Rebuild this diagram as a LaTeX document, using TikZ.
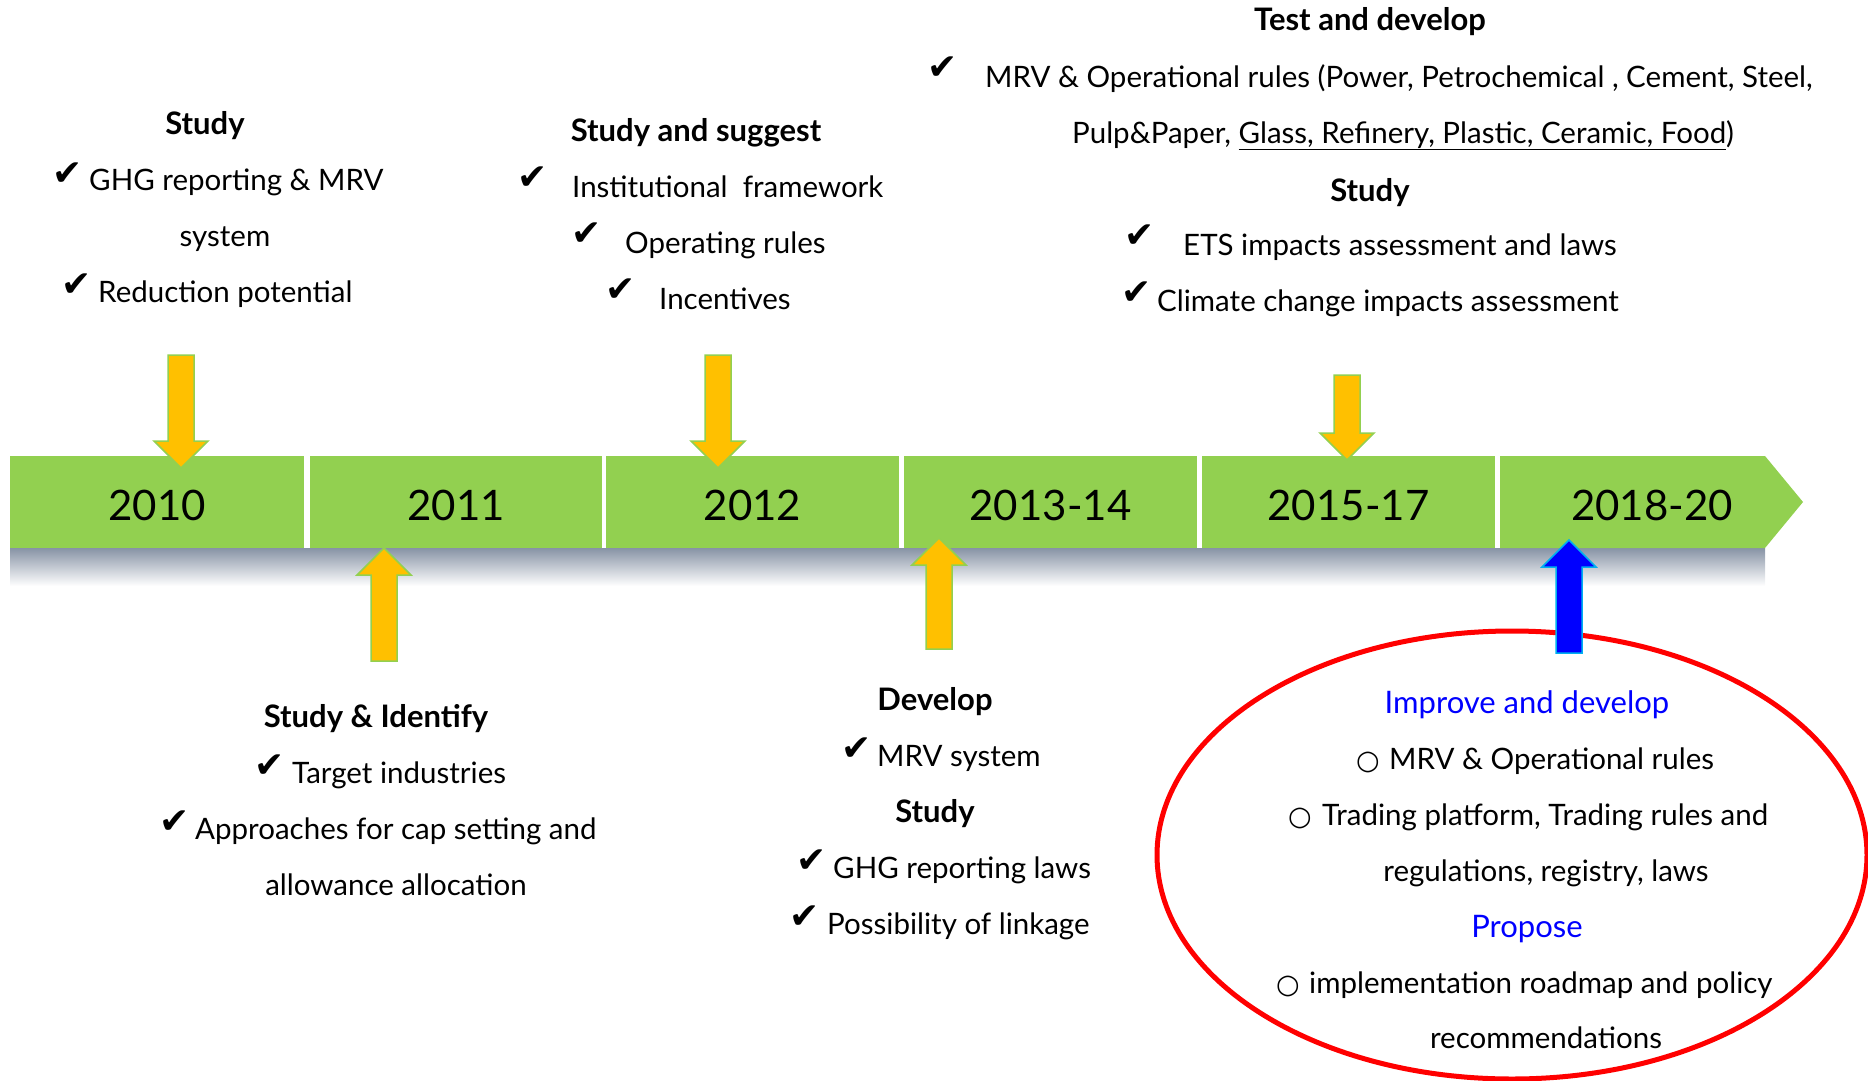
\documentclass[tikz,border=0pt]{standalone}
\usepackage{fontspec}
\setmainfont{Lato}
\newfontfamily\yearfont{Lato}
\newfontfamily\symfont{DejaVu Sans}
\usetikzlibrary{shadows}
\definecolor{bargreen}{RGB}{146,208,80}
\definecolor{arroworange}{RGB}{255,192,0}
\definecolor{shadowgray}{RGB}{135,147,165}
\definecolor{arrowblue}{RGB}{0,0,255}
\definecolor{arrowcyan}{RGB}{0,176,240}
\definecolor{ringred}{RGB}{255,0,0}
\newcommand{\chk}{{\symfont\char"2714}}
\newcommand{\opnbul}{{\symfont\bfseries\char"25CB}}
\tikzset{
  pics/downarr/.style={code={
    \path[pic actions] (-13,0) -- (13,0) -- (13,#1-27) -- (27,#1-27) -- (0,#1)
      -- (-27,#1-27) -- (-13,#1-27) -- cycle;}},
  pics/uparr/.style={code={
    \path[pic actions] (-13,0) -- (13,0) -- (13,-#1+27) -- (27,-#1+27) -- (0,-#1)
      -- (-27,-#1+27) -- (-13,-#1+27) -- cycle;}}
}

\begin{document}
\begin{tikzpicture}[x=1pt, y=-1pt,
    seg/.style={fill=bargreen, inner sep=0, minimum height=92, text height=36, text depth=0,
                font=\yearfont\fontsize{42}{42}\selectfont},
    yarrow/.style={fill=arroworange, draw=bargreen, line width=1.5,
                   drop shadow={opacity=0.35, shadow xshift=3pt, shadow yshift=-3pt}},
    barrow/.style={fill=arrowblue, draw=arrowcyan, line width=1.5,
                   drop shadow={opacity=0.35, shadow xshift=3pt, shadow yshift=-3pt}},
    txt/.style={inner sep=0, anchor=base west, font=\fontsize{29.5}{32}\selectfont},
    ctr/.style={inner sep=0, anchor=base, font=\fontsize{29.5}{32}\selectfont},
    hd/.style={inner sep=0, anchor=base, font=\fontsize{31}{32}\selectfont\bfseries},
    bluehd/.style={inner sep=0, anchor=base, text=arrowblue, font=\fontsize{31}{32}\selectfont},
    chkmark/.style={inner sep=0, anchor=base west, font=\fontsize{36}{36}\selectfont},
    bul/.style={inner sep=0, anchor=base west, font=\fontsize{27}{30}\selectfont},
  ]
\useasboundingbox (0,0) rectangle (1868,1081);
\clip (0,0) rectangle (1868,1081);

% timeline bar
\shade[top color=shadowgray, bottom color=white] (10,548) rectangle (1765,586);
\foreach \xa/\xb/\yr/\nm in {10/304/2010/s10, 310/602/2011/s11, 606/899/2012/s12,
                             904/1197/2013-14/s13, 1202/1495/2015-17/s15}
  \node[seg, minimum width=\xb-\xa] (\nm) at ({(\xa+\xb)/2},502) {\yr};
\fill[bargreen] (1500,456) -- (1765,456) -- (1803,502) -- (1765,548) -- (1500,548) -- cycle;
\node[seg, fill=none] (s18) at (1652,502) {2018-20};

% ring
\draw[ringred, line width=5] (1512,855) ellipse [x radius=355, y radius=224];

% arrows
\pic[yarrow] at (181,355) {downarr=113};
\pic[yarrow] at (718,355) {downarr=113};
\pic[yarrow] at (1347,375) {downarr=85};
\pic[yarrow] at (384,661) {uparr=113};
\pic[yarrow] at (939,649) {uparr=111};
\pic[barrow] at (1569,653) {uparr=113};

% 2010
\node[hd] (h10) at (205,134) {Study};
\node[chkmark] (c10a) at (52,185) {\chk};
\node[txt] (t10a) at (89,190) {GHG reporting \& MRV};
\node[ctr] (t10b) at (225,246) {system};
\node[chkmark] (c10c) at (61,296) {\chk};
\node[txt] (t10c) at (98,302) {Reduction potential};

% 2012
\node[hd] (h12) at (696,141) {Study and suggest};
\node[chkmark] (c12a) at (517,189) {\chk};
\node[txt] (t12a) at (572,197) {Institutional\ \ framework};
\node[chkmark] (c12b) at (571,245) {\chk};
\node[txt] (t12b) at (625,253) {Operating rules};
\node[chkmark] (c12c) at (605,301) {\chk};
\node[txt] (t12c) at (659,309) {Incentives};

% 2015-17
\node[hd] (h15) at (1370,31) {Test and develop};
\node[chkmark] (c15a) at (927,79) {\chk};
\node[txt] (t15a) at (985,87) {MRV \& Operational rules (Power, Petrochemical , Cement, Steel,};
\node[txt] (t15b) at (1072,143) {Pulp\&Paper, \underline{Glass, Refinery, Plastic, Ceramic, Food})};
\node[hd] (h15b) at (1370,201) {Study};
\node[chkmark] (c15c) at (1124,247) {\chk};
\node[txt] (t15c) at (1183,255) {ETS impacts assessment and laws};
\node[chkmark] (c15d) at (1121,304) {\chk};
\node[txt] (t15d) at (1157,311) {Climate change impacts assessment};

% 2011
\node[hd] (h11) at (376,727) {Study \& Identify};
\node[chkmark] (c11a) at (254,777) {\chk};
\node[txt] (t11a) at (292,783) {Target industries};
\node[chkmark] (c11b) at (159,833) {\chk};
\node[txt] (t11b) at (195,839) {Approaches for cap setting and};
\node[ctr] (t11c) at (396,895) {allowance allocation};

% 2013-14
\node[hd] (h13) at (935,710) {Develop};
\node[chkmark] (c13a) at (841,760) {\chk};
\node[txt] (t13a) at (877,766) {MRV system};
\node[hd] (h13b) at (935,822) {Study};
\node[chkmark] (c13c) at (796,872) {\chk};
\node[txt] (t13c) at (833,878) {GHG reporting laws};
\node[chkmark] (c13d) at (789,928) {\chk};
\node[txt] (t13d) at (827,934) {Possibility of linkage};

% 2018-20
\node[bluehd] (h18) at (1527,713) {Improve and develop};
\node[bul] (b18a) at (1356,769) {\opnbul};
\node[txt] (t18a) at (1389,769) {MRV \& Operational rules};
\node[bul] (b18b) at (1288,825) {\opnbul};
\node[txt] (t18b) at (1322,825) {Trading platform, Trading rules and};
\node[ctr] (t18c) at (1546,881) {regulations, registry, laws};
\node[bluehd] (h18b) at (1527,937) {Propose};
\node[bul] (b18d) at (1276,993) {\opnbul};
\node[txt] (t18d) at (1309,993) {implementation roadmap and policy};
\node[ctr] (t18e) at (1546,1048) {recommendations};
\end{tikzpicture}
\end{document}
